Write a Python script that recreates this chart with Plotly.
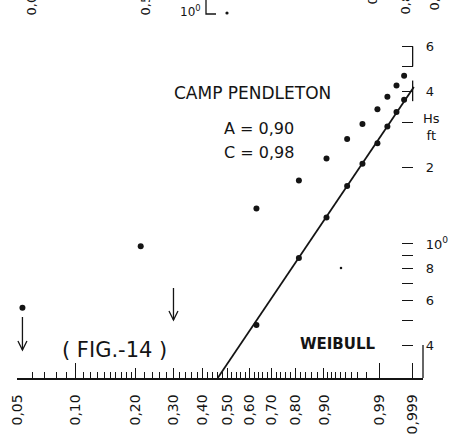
import numpy as np
import plotly.graph_objects as go

# ---------------- data ----------------
prob_ticks = [0.05, 0.10, 0.20, 0.30, 0.40, 0.50, 0.60, 0.70, 0.80, 0.90, 0.99, 0.999]
prob_labels = ["0,05", "0,10", "0,20", "0,30", "0,40", "0,50", "0,60", "0,70",
               "0,80", "0,90", "0,99", "0,999"]
prob_minor = ([0.06, 0.07, 0.08, 0.09] + [round(0.10 + 0.01 * i, 2) for i in range(1, 10)]
              + [round(0.20 + 0.02 * i, 2) for i in range(1, 35)]
              + [0.91, 0.92, 0.93, 0.94, 0.95, 0.96, 0.97, 0.98])
prob_long = [0.05, 0.10, 0.99, 0.999]

hs_ticks = [0.4, 0.6, 0.8, 1, 2, 4, 6]
hs_labels = ["4", "6", "8", "10<sup>0</sup>", "2", "4", "6"]
hs_minor = [0.5, 0.7, 0.9, 3, 5]

# observed wave heights (ft) and non-exceedance probabilities
obs_P = [0.0534, 0.2115, 0.631, 0.815, 0.907, 0.9535, 0.9755, 0.9885, 0.9936, 0.9965, 0.9980]
obs_Hs = [0.561, 0.98, 1.38, 1.78, 2.17, 2.59, 2.97, 3.39, 3.80, 4.21, 4.60]
A = 0.90
C = 0.98
# fitted straight line (Hs - A)
fit_P = [0.4606, 0.9991]
fit_H = [0.297, 4.15]
# off-scale points marked with arrows
offscale_P = [0.0534, 0.30]

# ---------------- scales ----------------
def wb(p):
    p = np.asarray(p, dtype=float)
    return np.log(-np.log(1.0 - p))

XR = [-2.970, 2.061]
YR = [-0.5276, 0.9606]
W, H = 451, 436
ML, MR, MT, MB = 17, 28, 0, 58
PW, PH = W - ML - MR, H - MT - MB
XPX = (XR[1] - XR[0]) / PW      # data units per pixel


def px(xp, yp):
    return (xp - ML) / PW, 1 - (yp - MT) / PH


def ypaper(v):
    return (np.log10(v) - YR[0]) / (YR[1] - YR[0])


def xpaper(p):
    return (float(wb(p)) - XR[0]) / (XR[1] - XR[0])


INK = "#141414"
FONT = "DejaVu Sans"

red_H = np.array(obs_Hs) - A
keep = red_H > 10 ** YR[0]

fig = go.Figure()
fig.add_trace(go.Scatter(x=wb(fit_P), y=fit_H, mode="lines",
                         line=dict(color=INK, width=1.8), hoverinfo="skip"))
fig.add_trace(go.Scatter(x=wb(obs_P), y=obs_Hs, mode="markers",
                         marker=dict(color=INK, size=6), hoverinfo="skip"))
fig.add_trace(go.Scatter(x=wb(np.array(obs_P)[keep]), y=red_H[keep], mode="markers",
                         marker=dict(color=INK, size=6), hoverinfo="skip"))
fig.add_trace(go.Scatter(x=wb(prob_long), y=[1] * len(prob_long), xaxis="x2",
                         mode="markers", marker=dict(opacity=0), hoverinfo="skip"))

annotations = []


def text(xp, yp, s, size, bold=False, xanchor="center", yanchor="middle", **kw):
    x, y = px(xp, yp)
    d = dict(x=x, y=y, xref="paper", yref="paper", text=("<b>%s</b>" % s if bold else s),
             showarrow=False, xanchor=xanchor, yanchor=yanchor,
             font=dict(family=FONT, size=size, color=INK))
    d.update(kw)
    annotations.append(d)


text(253, 93, "CAMP PENDLETON", 17)
text(259, 128, "A = 0,90", 16)
text(259, 152, "C = 0,98", 16)
text(114, 350, "( FIG.-14 )", 21)
text(338, 344, "WEIBULL", 15, bold=True)
text(431, 127, "Hs<br>ft", 13)

# clipped labels of the figure above
for xp, yb, s in [(31, 18, "0,05"), (145, 18, "0,50"), (372, 7, "0,70"),
                  (405, 17, "0,80"), (434, 12, "0,90")]:
    text(xp, yb, s, 13, textangle=-90, yanchor="bottom")
text(190, 11, "10<sup>0</sup>", 12)

shapes = []
# arrows for off-scale points (drawn as lines with an open V head)
for p, tip, tail in zip(offscale_P, [350, 320], [317, 288]):
    xw = float(wb(p))
    _, yt = px(0, tip)
    _, yb = px(0, tail)
    _, yh = px(0, tip - 9)
    ln = dict(color=INK, width=1.3)
    shapes.append(dict(type="line", xref="x", yref="paper", x0=xw, x1=xw,
                       y0=yb, y1=yt, line=ln))
    shapes.append(dict(type="path", xref="x", yref="paper",
                       path="M %f %f L %f %f L %f %f" % (xw - 4.5 * XPX, yh, xw, yt,
                                                        xw + 4.5 * XPX, yh),
                       line=ln))

# right frame and brackets
x999 = xpaper(0.999)
shapes.append(dict(type="line", xref="paper", yref="paper", x0=1, x1=1,
                   y0=0, y1=ypaper(0.4), line=dict(color=INK, width=1.3)))
shapes.append(dict(type="line", xref="paper", yref="paper", x0=x999, x1=x999,
                   y0=ypaper(5), y1=ypaper(6), line=dict(color=INK, width=1.3)))
shapes.append(dict(type="line", xref="paper", yref="paper", x0=x999, x1=x999,
                   y0=ypaper(3.65), y1=ypaper(4.4), line=dict(color=INK, width=1.3)))
# bits of the figure above
a, b = px(206, 0)
c, d = px(206, 14)
e, f = px(216, 14)
shapes.append(dict(type="path", xref="paper", yref="paper",
                   path="M %f %f L %f %f L %f %f" % (a, b + 0.01, c, d, e, f),
                   line=dict(color=INK, width=1.3)))
for xp, yp, r in [(227, 13, 1.6), (341, 268, 1.3)]:
    x0, y0 = px(xp - r, yp + r)
    x1, y1 = px(xp + r, yp - r)
    shapes.append(dict(type="circle", xref="paper", yref="paper", x0=x0, x1=x1,
                       y0=y0, y1=y1, fillcolor=INK, line=dict(width=0)))

fig.update_layout(
    width=W, height=H, margin=dict(l=ML, r=MR, t=MT, b=MB),
    paper_bgcolor="white", plot_bgcolor="white", showlegend=False,
    font=dict(family=FONT, color=INK),
    xaxis=dict(range=XR, domain=[0, 1], showgrid=False, zeroline=False,
               showline=True, linecolor=INK, linewidth=1.5,
               tickmode="array", tickvals=wb(prob_ticks), ticktext=prob_labels,
               ticks="inside", ticklen=10, tickwidth=1.2, tickcolor=INK,
               tickangle=-90, tickfont=dict(size=14, family=FONT, color=INK),
               ticklabelstandoff=9,
               minor=dict(tickmode="array", tickvals=wb(prob_minor), ticks="inside",
                          ticklen=6, tickwidth=1, tickcolor=INK, showgrid=False)),
    xaxis2=dict(range=XR, overlaying="x", anchor="y", side="bottom", showgrid=False,
                zeroline=False, showline=False, showticklabels=False,
                tickmode="array", tickvals=wb(prob_long), ticks="inside",
                ticklen=15, tickwidth=1.2, tickcolor=INK),
    yaxis=dict(type="log", range=YR, domain=[0, 1], anchor="free",
               position=x999, side="right", showgrid=False, zeroline=False,
               showline=False, tickmode="array", tickvals=hs_ticks, ticktext=hs_labels,
               ticks="inside", ticklen=11, tickwidth=1.3, tickcolor=INK,
               tickfont=dict(size=13, family=FONT, color=INK), ticklabelstandoff=12,
               minor=dict(tickmode="array", tickvals=hs_minor, ticks="inside",
                          ticklen=11, tickwidth=1.3, tickcolor=INK, showgrid=False)),
    annotations=annotations, shapes=shapes,
)

fig.write_html("out.html")
